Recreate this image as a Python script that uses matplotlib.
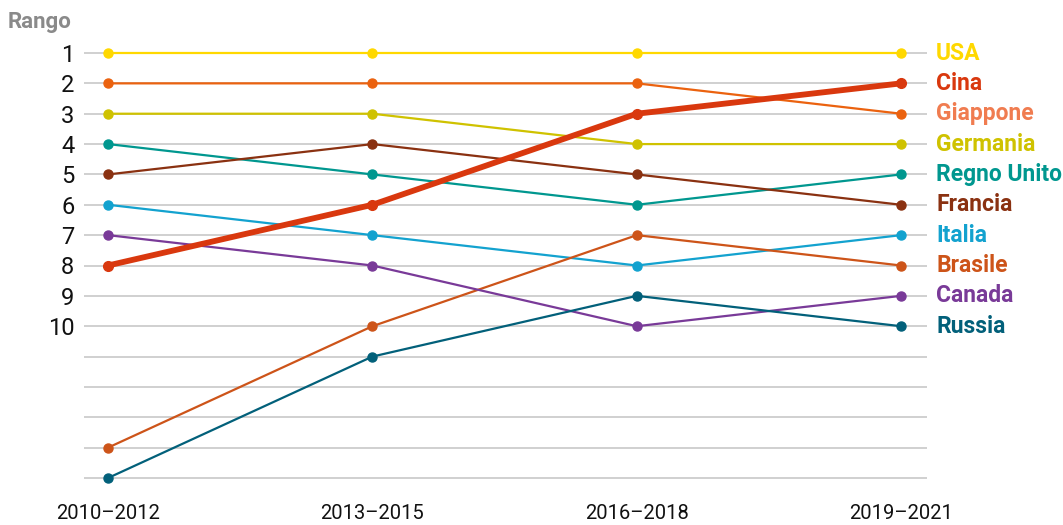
import matplotlib
matplotlib.use("Agg")
import matplotlib.pyplot as plt
from matplotlib import font_manager

# ── Data ──────────────────────────────────────────────────────────────────────
periods = ["2010–2012", "2013–2015", "2016–2018", "2019–2021"]
countries = ["USA", "Cina", "Giappone", "Germania", "Regno Unito",
             "Francia", "Italia", "Brasile", "Canada", "Russia"]
rank_usa = [1, 1, 1, 1]
rank_cina = [8, 6, 3, 2]
rank_giappone = [2, 2, 2, 3]
rank_germania = [3, 3, 4, 4]
rank_regno_unito = [4, 5, 6, 5]
rank_francia = [5, 4, 5, 6]
rank_italia = [6, 7, 8, 7]
rank_brasile = [14, 10, 7, 8]
rank_canada = [7, 8, 10, 9]
rank_russia = [15, 11, 9, 10]
rank_ticks = [1, 2, 3, 4, 5, 6, 7, 8, 9, 10]
grid_ranks = list(range(1, 16))

ranks = [rank_usa, rank_cina, rank_giappone, rank_germania, rank_regno_unito,
         rank_francia, rank_italia, rank_brasile, rank_canada, rank_russia]

line_colors = ["#FFD800", "#D9380E", "#EB620F", "#CFC200", "#00978F",
               "#8A3111", "#13A2CF", "#CD5419", "#793A98", "#02607A"]
label_colors = ["#FFD800", "#D9380E", "#F07C50", "#CFC200", "#00978F",
                "#8A3111", "#13A2CF", "#CD5419", "#793A98", "#02607A"]

# ── Font (narrow face if there is one) ────────────────────────────────────────
names = {f.name for f in font_manager.fontManager.ttflist}
if "Liberation Sans Narrow" in names:
    FONT, LBL, TCK, XT, TTL = "Liberation Sans Narrow", 19, 18, 17, 17
else:
    FONT, LBL, TCK, XT, TTL = "Roboto", 16.5, 17, 14.5, 16
plt.rcParams["font.family"] = [FONT, "DejaVu Sans"]

# ── Figure ────────────────────────────────────────────────────────────────────
fig = plt.figure(figsize=(10.63, 5.25), dpi=100)
ax = fig.add_axes([84 / 1063, 1 - 487.1 / 525, (927 - 84) / 1063, (487.1 - 43.9) / 525])

for r in grid_ranks:
    ax.axhline(r, color="#c4c4c4", linewidth=1.1, zorder=1)

x = list(range(len(periods)))
for name, rk, c in zip(countries, ranks, line_colors):
    lw = 4.2 if name == "Cina" else 1.6
    ms = 7 if name == "Cina" else 6.5
    ax.plot(x, rk, color=c, linewidth=lw, marker="o", markersize=ms,
            zorder=4 if name == "Cina" else 3, clip_on=False)

for name, rk, c in zip(countries, ranks, label_colors):
    ax.text(3.098 + 9 / 264.3, rk[-1], name, color=c, fontsize=LBL,
            fontweight="bold", va="center", ha="left")

ax.set_xlim(-0.091, 3.098)
ax.set_ylim(15.3, 0.7)
ax.set_yticks(rank_ticks)
ax.set_yticklabels([str(t) for t in rank_ticks], fontsize=TCK, color="#111111")
ax.set_xticks(x)
ax.set_xticklabels(periods, fontsize=XT, color="#111111")
ax.tick_params(axis="both", length=0)
ax.tick_params(axis="y", pad=7)
ax.tick_params(axis="x", pad=12)
for s in ax.spines.values():
    s.set_visible(False)

fig.text(8 / 1063, 1 - 22 / 525, "Rango", color="#8a8a8a", fontsize=TTL,
         fontweight="bold", va="center", ha="left")

fig.savefig("out.png", dpi=100)
